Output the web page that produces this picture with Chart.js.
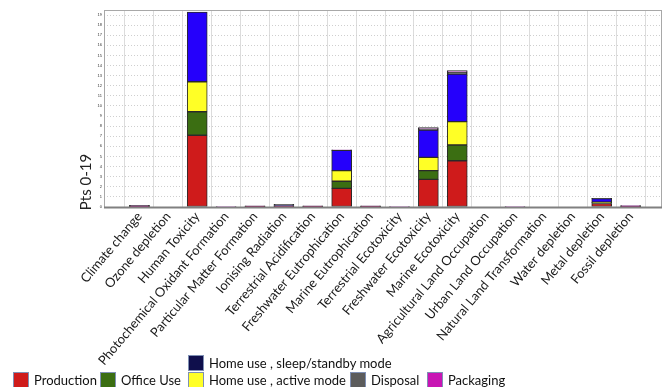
<!DOCTYPE html>
<html>
<head>
<meta charset="utf-8">
<script src="https://cdn.jsdelivr.net/npm/chart.js@4.4.1/dist/chart.umd.min.js"></script>
<style>
  body { margin: 0; background: #fff; }
  #wrap { position: relative; width: 667px; height: 387px; overflow: hidden; }
  .lg { position: absolute; font: 13px Lato, sans-serif; color: #111; white-space: nowrap; line-height: 15px; }
  .sw { position: absolute; width: 14px; height: 14px; border: 1px solid #7f90b4; }
</style>
</head>
<body>
<div id="wrap">
  <canvas id="c" width="667" height="387"></canvas>
  <div id="legend"></div>
</div>
<script>
// ── data ────────────────────────────────────────────────────────────────
const categories = [
  "Climate change", "Ozone depletion", "Human Toxicity", "Photochemical Oxidant Formation",
  "Particular Matter Formation", "Ionising Radiation", "Terrestrial Acidification",
  "Freshwater Eutrophication", "Marine Eutrophication", "Terrestrial Ecotoxicity",
  "Freshwater Ecotoxicity", "Marine Ecotoxicity", "Agricultural Land Occupation",
  "Urban Land Occupation", "Natural Land Transformation", "Water depletion",
  "Metal depletion", "Fossil depletion"
];

const production  = [0.03, 0, 7.1,  0,    0.02, 0.03, 0.02, 1.85, 0.02, 0,    2.74, 4.58, 0,    0,    0, 0, 0.35, 0.02];
const officeUse   = [0,    0, 2.33, 0,    0,    0,    0,    0.7,  0,    0,    0.86, 1.56, 0,    0,    0, 0, 0.08, 0];
const homeActive  = [0,    0, 2.97, 0,    0,    0,    0,    1.05, 0,    0,    1.32, 2.31, 0,    0,    0, 0, 0.05, 0];
const homeSleep   = [0.05, 0, 6.9,  0,    0.02, 0.12, 0.02, 2.0,  0.02, 0,    2.7,  4.7,  0,    0,    0, 0, 0.35, 0.05];
const disposal    = [0.05, 0, 0,    0,    0.05, 0.12, 0.05, 0.03, 0.05, 0,    0.1,  0.2,  0,    0,    0, 0, 0.03, 0.05];
const packaging   = [0.03, 0, 0,    0.04, 0.02, 0,    0.02, 0.04, 0.02, 0.04, 0.15, 0.15, 0,    0.04, 0, 0, 0,    0.03];

const yTicks = [0, 0.5, 1, 1.5, 2, 2.5, 3, 3.5, 4, 4.5, 5, 5.5, 6, 6.5, 7, 7.5, 8, 8.5, 9, 9.5,
  10, 10.5, 11, 11.5, 12, 12.5, 13, 13.5, 14, 14.5, 15, 15.5, 16, 16.5, 17, 17.5, 18, 18.5, 19];

const series = [
  { label: "Production", data: production, color: "#cf1b1b", swatch: "#cf1b1b" },
  { label: "Office Use", data: officeUse, color: "#3b6e12", swatch: "#3b6e12" },
  { label: "Home use , active mode", data: homeActive, color: "#ffff26", swatch: "#ffff26" },
  { label: "Home use , sleep/standby mode", data: homeSleep, color: "#2500fb", swatch: "#0f0f4c" },
  { label: "Disposal", data: disposal, color: "#4a4a4a", swatch: "#5c5c5c" },
  { label: "Packaging", data: packaging, color: "#cf7ad6", swatch: "#c815b4" },
];

// ── legend (html, laid out like the original two rows) ──────────────────
const legendPos = {
  "Home use , sleep/standby mode": [188, 355],
  "Production": [13, 372],
  "Office Use": [100, 372],
  "Home use , active mode": [188, 372],
  "Disposal": [350, 372],
  "Packaging": [427, 372],
};
const legendHTML = series.map((s) => {
  const [x, y] = legendPos[s.label];
  return `<div class="sw" style="left:${x}px;top:${y}px;background:${s.swatch}"></div>
    <div class="lg" style="left:${x + 21}px;top:${y + 1}px">${s.label}</div>`;
}).join("");
document.getElementById("legend").innerHTML = legendHTML;

// ── plot frame + y title ────────────────────────────────────────────────
const framePlugin = {
  id: "frame",
  afterDraw(chart) {
    const { ctx, chartArea: a } = chart;
    ctx.save();
    ctx.strokeStyle = "#a8a8a8";
    ctx.lineWidth = 1;
    ctx.strokeRect(a.left + 0.5, a.top + 0.5, a.right - a.left - 1, a.bottom - a.top);
    ctx.strokeStyle = "#808080";
    ctx.lineWidth = 2;
    ctx.beginPath();
    ctx.moveTo(a.left, a.bottom + 0.5);
    ctx.lineTo(a.right, a.bottom + 0.5);
    ctx.stroke();
    ctx.translate(86, 182);
    ctx.rotate(-Math.PI / 2);
    ctx.fillStyle = "#222";
    ctx.font = "15px Lato, sans-serif";
    ctx.textAlign = "center";
    ctx.textBaseline = "middle";
    ctx.fillText("Pts 0-19", 0, 0);
    ctx.restore();
  },
};

new Chart(document.getElementById("c"), {
  type: "bar",
  data: {
    datasets: series.map((s) => ({
      label: s.label,
      data: s.data.map((v, i) => ({ x: i, y: v })),
      backgroundColor: s.color,
      borderColor: "#2a2a2a",
      borderWidth: 1,
      borderSkipped: false,
      barThickness: 20,
    })),
  },
  options: {
    responsive: false,
    animation: false,
    layout: { padding: { top: 10, right: 5, left: 0, bottom: 0 } },
    plugins: { legend: { display: false }, tooltip: { enabled: false } },
    scales: {
      x: {
        type: "linear",
        stacked: true,
        min: -0.69,
        max: 17.55,
        afterBuildTicks: (s) => { s.ticks = categories.map((c, i) => ({ value: i })); },
        afterFit: (s) => { s.height = 180; },
        ticks: {
          autoSkip: false,
          minRotation: 50,
          maxRotation: 50,
          padding: 2,
          color: "#1a1a1a",
          font: { family: "Lato", size: 13 },
          callback: (v) => categories[v] || "",
        },
        grid: { color: "#dcdcdc", drawTicks: false },
        border: { display: false },
      },
      y: {
        stacked: true,
        min: 0,
        max: 19.5,
        afterBuildTicks: (s) => { s.ticks = yTicks.map((v) => ({ value: v })); },
        afterFit: (s) => { s.width = 104; },
        ticks: {
          padding: 2,
          color: "#333",
          font: { family: "Liberation Sans", size: 4 },
          callback: (v) => String(v),
        },
        grid: { color: "#cfcfcf", drawTicks: false },
        border: { display: false, dash: [1, 2] },
      },
    },
  },
  plugins: [framePlugin],
});
</script>
</body>
</html>
